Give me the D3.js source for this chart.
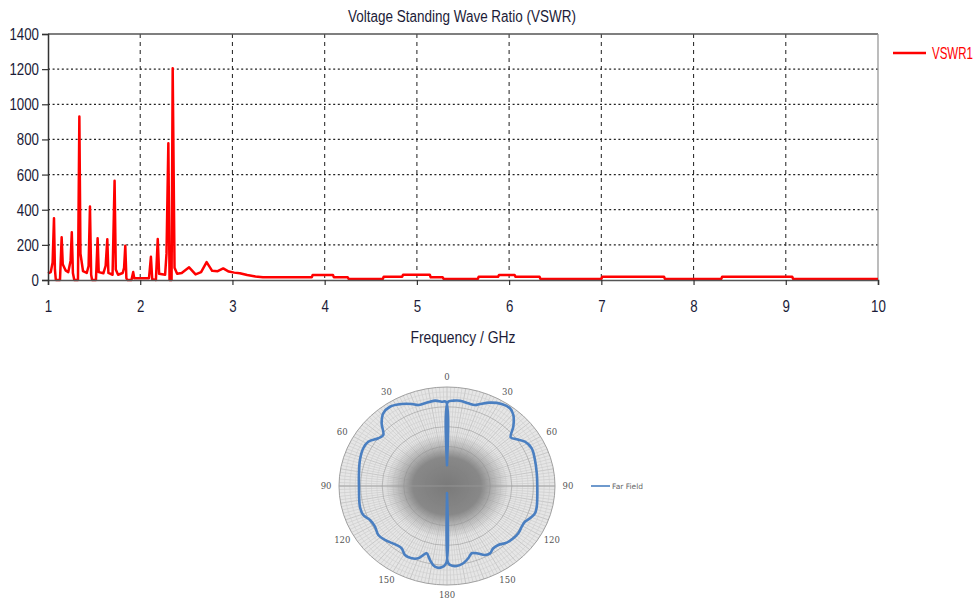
<!DOCTYPE html>
<html>
<head>
<meta charset="utf-8">
<script src="https://cdn.jsdelivr.net/npm/d3@7"></script>
<style>
  body { margin: 0; background: #fff; }
  svg { display: block; }
</style>
</head>
<body>
<div id="chart"></div>
<script>
// VSWR sweep (GHz, ratio)
var freq = [1.00, 1.03, 1.05, 1.065, 1.075, 1.085, 1.13, 1.148, 1.16, 1.19, 1.22, 1.245, 1.258, 1.27, 1.285,
  1.325, 1.34, 1.352, 1.38, 1.42, 1.44, 1.455, 1.468, 1.478, 1.52, 1.538, 1.55, 1.60, 1.625, 1.643, 1.655,
  1.70, 1.722, 1.735, 1.76, 1.81, 1.825, 1.838, 1.85, 1.86, 1.905, 1.924, 1.935, 2.095, 2.116, 2.13, 2.17,
  2.19, 2.205, 2.27, 2.285, 2.305, 2.318, 2.34, 2.352, 2.372, 2.40, 2.45, 2.53, 2.60, 2.66, 2.72, 2.78,
  2.84, 2.90, 2.96, 3.02, 3.08, 3.16, 3.25, 3.33, 3.86, 3.87, 4.09, 4.10, 4.25, 4.26, 4.63, 4.64, 4.84,
  4.85, 5.14, 5.15, 5.28, 5.29, 5.66, 5.67, 5.88, 5.89, 6.06, 6.07, 6.33, 6.34, 7.00, 7.01, 7.68, 7.69,
  8.30, 8.31, 9.07, 9.08, 10.0];
var vswr = [38, 45, 100, 352, 60, 0, 0, 243, 90, 55, 45, 110, 272, 40, 0,
  0, 930, 150, 50, 40, 80, 418, 30, 0, 0, 237, 45, 38, 80, 232, 40,
  30, 565, 60, 30, 40, 70, 195, 10, 0, 0, 45, 10, 10, 132, 5, 0,
  233, 35, 30, 150, 778, 0, 0, 1205, 70, 35, 40, 72, 32, 45, 102, 52,
  50, 66, 48, 42, 38, 28, 20, 15, 15, 28, 28, 15, 15, 6, 6, 18, 18,
  30, 30, 15, 15, 6, 6, 18, 18, 28, 28, 18, 18, 6, 6, 18, 18, 6,
  6, 18, 18, 6, 6];

var xTicks = [1, 2, 3, 4, 5, 6, 7, 8, 9, 10];
var yTicks = [0, 200, 400, 600, 800, 1000, 1200, 1400];

// far field pattern (degrees clockwise from top, normalised radius)
var ffAngle = [0, 0.6, 3.9, 7.9, 13.3, 17.6, 20.3, 25.3, 31.4, 36.6, 40.6, 45.7, 50.2, 53.8, 58.2, 64.1,
  72.1, 81.2, 90.5, 104.1, 108.7, 113, 116.6, 120.7, 125.9, 130.7, 136, 141.4, 145.7, 149.7, 153.2, 158,
  161.4, 164.9, 169.1, 173.6, 178, 179.4, 180, 180.6, 183.4, 187.8, 191.9, 195.5, 197.5, 200, 204.1, 209.2,
  213.7, 218, 226.5, 232.1, 238.4, 244.3, 249.3, 255.5, 269.5, 278.9, 288.1, 296.2, 301.5, 307.2, 311.1,
  316.3, 321.2, 326.6, 333.2, 338.5, 342, 346.3, 352.7, 356.7, 359.4];
var ffRadius = [0.21, 0.85, 0.864, 0.87, 0.858, 0.858, 0.883, 0.931, 0.971, 0.978, 0.944, 0.858, 0.768, 0.799, 0.849, 0.872,
  0.856, 0.841, 0.836, 0.857, 0.86, 0.835, 0.807, 0.805, 0.815, 0.81, 0.796, 0.762, 0.761, 0.788, 0.781, 0.733,
  0.717, 0.756, 0.795, 0.813, 0.798, 0.77, 0.07, 0.78, 0.823, 0.823, 0.764, 0.705, 0.731, 0.777, 0.8, 0.798,
  0.756, 0.757, 0.792, 0.806, 0.783, 0.791, 0.829, 0.833, 0.815, 0.825, 0.848, 0.864, 0.855, 0.798, 0.783,
  0.876, 0.942, 0.959, 0.928, 0.89, 0.86, 0.86, 0.869, 0.853, 0.85];
var polarLabels = ["0", "30", "60", "90", "120", "150", "180", "150", "120", "90", "60", "30"];

var font = "'Liberation Sans', Arial, sans-serif";
var ink = "#1c1c38";

var svg = d3.select("#chart").append("svg")
  .attr("width", 980)
  .attr("height", 603);

// narrow look of the original labels: squeeze text to a fixed width per char
function squeeze(sel, perChar) {
  sel.attr("lengthAdjust", "spacingAndGlyphs")
    .attr("textLength", function() { return this.textContent.length * perChar; });
}

// ---------- VSWR chart ----------
var x = d3.scaleLinear().domain([1, 10]).range([48, 878]);
var y = d3.scaleLinear().domain([0, 1400]).range([280, 34]);

var grid = svg.append("g");
grid.selectAll("line.h")
  .data(yTicks.filter(function(d) { return d > 0 && d < 1400; }))
  .enter().append("line")
  .attr("x1", x(1)).attr("x2", x(10))
  .attr("y1", function(d) { return y(d); })
  .attr("y2", function(d) { return y(d); })
  .attr("stroke", "#222")
  .attr("stroke-width", 1.3)
  .attr("stroke-dasharray", "2,2.6");
grid.selectAll("line.v")
  .data(xTicks.filter(function(d) { return d > 1 && d < 10; }))
  .enter().append("line")
  .attr("x1", function(d) { return x(d); })
  .attr("x2", function(d) { return x(d); })
  .attr("y1", y(1400)).attr("y2", y(0))
  .attr("stroke", "#333")
  .attr("stroke-width", 1.1)
  .attr("stroke-dasharray", "4,4");

// frame top / right
svg.append("line")
  .attr("x1", x(1)).attr("x2", x(10)).attr("y1", y(1400)).attr("y2", y(1400))
  .attr("stroke", "#555").attr("stroke-width", 1.3);
svg.append("line")
  .attr("x1", x(10)).attr("x2", x(10)).attr("y1", y(1400)).attr("y2", y(0))
  .attr("stroke", "#999").attr("stroke-width", 1.3);

var line = d3.line()
  .x(function(d, i) { return x(freq[i]); })
  .y(function(d) { return y(d); });

svg.append("path")
  .datum(vswr)
  .attr("d", line)
  .attr("fill", "none")
  .attr("stroke", "#ff0000")
  .attr("stroke-width", 2.5)
  .attr("stroke-linejoin", "round");

var xAxis = svg.append("g")
  .attr("transform", "translate(0," + y(0) + ")")
  .call(d3.axisBottom(x).tickValues(xTicks).tickSize(5).tickPadding(15).tickFormat(d3.format("d")));
xAxis.select(".domain").attr("stroke", "#555").attr("stroke-width", 1.6);
xAxis.selectAll(".tick line").attr("stroke", "#333").attr("stroke-width", 1.2);
xAxis.selectAll("text")
  .attr("font-family", font).attr("font-size", 17).attr("fill", ink)
  .call(squeeze, 7.4);

var yAxis = svg.append("g")
  .attr("transform", "translate(" + x(1) + ",0)")
  .call(d3.axisLeft(y).tickValues(yTicks).tickSize(6).tickPadding(3).tickFormat(d3.format("d")));
yAxis.select(".domain").attr("stroke", "#333").attr("stroke-width", 1.5);
yAxis.selectAll(".tick line").attr("stroke", "#333").attr("stroke-width", 1.2);
yAxis.selectAll("text")
  .attr("font-family", font).attr("font-size", 17).attr("fill", ink)
  .call(squeeze, 7.4);

svg.append("text")
  .attr("x", 462).attr("y", 22)
  .attr("text-anchor", "middle")
  .attr("font-family", font).attr("font-size", 16).attr("fill", ink)
  .attr("lengthAdjust", "spacingAndGlyphs").attr("textLength", 228)
  .text("Voltage Standing Wave Ratio (VSWR)");

svg.append("text")
  .attr("x", 463).attr("y", 343)
  .attr("text-anchor", "middle")
  .attr("font-family", font).attr("font-size", 17).attr("fill", ink)
  .attr("lengthAdjust", "spacingAndGlyphs").attr("textLength", 105)
  .text("Frequency / GHz");

// legend
svg.append("line")
  .attr("x1", 893).attr("x2", 926).attr("y1", 53).attr("y2", 53)
  .attr("stroke", "#ff0000").attr("stroke-width", 2.5);
var legText = svg.append("text")
  .attr("x", 0).attr("y", 0)
  .attr("font-family", font).attr("font-size", 16).attr("fill", "#ff0000")
  .text("VSWR1");
var legW = legText.node().getComputedTextLength();
legText.attr("transform", "translate(932,59) scale(" + (41 / legW) + ",1)");

// ---------- polar far field ----------
var cx = 447, cy = 486;
var rx = d3.scaleLinear().domain([0, 1]).range([0, 108]);
var ry = d3.scaleLinear().domain([0, 1]).range([0, 99]);
function px(a, r) { return cx + rx(r) * Math.sin(a * Math.PI / 180); }
function py(a, r) { return cy - ry(r) * Math.cos(a * Math.PI / 180); }

var defs = svg.append("defs");
var grad = defs.append("radialGradient").attr("id", "blob");
grad.append("stop").attr("offset", "0%").attr("stop-color", "#7a7a7a").attr("stop-opacity", 1);
grad.append("stop").attr("offset", "55%").attr("stop-color", "#848484").attr("stop-opacity", 0.95);
grad.append("stop").attr("offset", "100%").attr("stop-color", "#a0a0a0").attr("stop-opacity", 0);

var polar = svg.append("g");
polar.append("ellipse")
  .attr("cx", cx).attr("cy", cy).attr("rx", rx(1)).attr("ry", ry(1))
  .attr("fill", "#e6e6e6");

var spokes = d3.range(0, 360, 2);
polar.selectAll("line.spoke")
  .data(spokes)
  .enter().append("line")
  .attr("x1", cx).attr("y1", cy)
  .attr("x2", function(d) { return px(d, 1); })
  .attr("y2", function(d) { return py(d, 1); })
  .attr("stroke", function(d) { return d % 10 === 0 ? "#a8a8a8" : "#c2c2c2"; })
  .attr("stroke-width", 0.5);

var rings = d3.range(0.05, 1, 0.05);
polar.selectAll("ellipse.ring")
  .data(rings)
  .enter().append("ellipse")
  .attr("cx", cx).attr("cy", cy)
  .attr("rx", function(d) { return rx(d); })
  .attr("ry", function(d) { return ry(d); })
  .attr("fill", "none")
  .attr("stroke", function(d, i) { return (i + 1) % 4 === 0 ? "#9a9a9a" : "#cfcfcf"; })
  .attr("stroke-width", 0.6);

polar.append("ellipse")
  .attr("cx", cx).attr("cy", cy).attr("rx", 62).attr("ry", 52)
  .attr("fill", "url(#blob)");

polar.append("line")
  .attr("x1", px(270, 1)).attr("x2", px(90, 1)).attr("y1", cy).attr("y2", cy)
  .attr("stroke", "#999").attr("stroke-width", 0.8);

polar.append("ellipse")
  .attr("cx", cx).attr("cy", cy).attr("rx", rx(1)).attr("ry", ry(1))
  .attr("fill", "none").attr("stroke", "#a0a0a0").attr("stroke-width", 1);

var ffLine = d3.line()
  .x(function(d, i) { return px(ffAngle[i], d); })
  .y(function(d, i) { return py(ffAngle[i], d); })
  .curve(d3.curveCatmullRomClosed.alpha(0.5));

polar.append("path")
  .datum(ffRadius)
  .attr("d", ffLine)
  .attr("fill", "none")
  .attr("stroke", "#4a7fc1")
  .attr("stroke-width", 2.6);

polar.selectAll("text.lab")
  .data(polarLabels)
  .enter().append("text")
  .attr("x", function(d, i) { return px(i * 30, 1.12); })
  .attr("y", function(d, i) { return py(i * 30, 1.1) + 3; })
  .attr("text-anchor", "middle")
  .attr("font-family", "'DejaVu Serif', serif")
  .attr("font-size", 8.5)
  .attr("fill", "#555")
  .text(function(d) { return d; });

svg.append("line")
  .attr("x1", 591).attr("x2", 610).attr("y1", cy).attr("y2", cy)
  .attr("stroke", "#4a7fc1").attr("stroke-width", 1.6);
svg.append("text")
  .attr("x", 612).attr("y", cy + 3)
  .attr("font-family", "'DejaVu Sans', sans-serif")
  .attr("font-size", 7.5).attr("fill", "#666")
  .text("Far Field");
</script>
</body>
</html>
